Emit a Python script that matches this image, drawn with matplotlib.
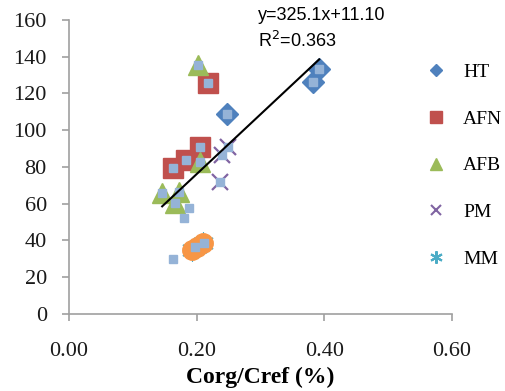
import matplotlib.pyplot as plt
from matplotlib.lines import Line2D

# data (Corg/Cref as fraction, y value)
ht_x = [0.392, 0.382, 0.247]
ht_y = [133.3, 126.3, 108.8]

afn_x = [0.218, 0.205, 0.183, 0.163]
afn_y = [125.7, 91.0, 83.8, 79.5]

afb_x = [0.202, 0.205, 0.146, 0.172, 0.166]
afb_y = [135.5, 82.7, 65.8, 66.4, 60.4]

pm_x = [0.236, 0.239, 0.249]
pm_y = [71.8, 86.5, 91.0]

mm_x = [0.193, 0.200, 0.210]
mm_y = [34.8, 36.5, 38.6]

# orange points and small squares (not in legend)
or_x = [0.193, 0.200, 0.210]
or_y = [34.8, 36.5, 38.6]

sq_x = ht_x + afn_x + afb_x + pm_x + [0.188, 0.180, 0.163, 0.197, 0.211]
sq_y = ht_y + afn_y + afb_y + pm_y + [57.7, 52.4, 29.9, 36.5, 38.6]

slope = 325.1
icpt = 11.10
fit_x = [0.146, 0.392]

fig = plt.figure(figsize=(5.05, 3.91), dpi=100)
ax = fig.add_axes([0.1366, 0.197, 0.895 - 0.1366, 0.949 - 0.197])

ax.plot(ht_x, ht_y, 'D', color='#4F81BD', markersize=11, zorder=3)
ax.plot(afn_x, afn_y, 's', color='#C0504D', markersize=14.5, zorder=3)
ax.plot(afb_x, afb_y, '^', color='#9BBB59', markersize=15, zorder=3)
ax.plot(pm_x, pm_y, 'x', color='#8064A2', markersize=12, markeredgewidth=1.6, zorder=3)
ax.plot(mm_x, mm_y, marker=(6, 2, 0), linestyle='none', color='#4BACC6',
        markersize=16, markeredgewidth=0.8, zorder=3)
ax.plot(or_x, or_y, 'o', color='#F79646', markersize=14, zorder=4)
ax.plot(sq_x, sq_y, 's', color='#95B3D7', markersize=6, zorder=5)

fit_y = [slope * v + icpt for v in fit_x]
ax.plot(fit_x, fit_y, color='black', linewidth=1.5, zorder=6)

ax.set_xlim(0, 0.6)
ax.set_ylim(0, 160)
ax.set_xticks([0.0, 0.2, 0.4, 0.6])
ax.set_xticklabels(['0.00', '0.20', '0.40', '0.60'])
ax.set_yticks(range(0, 161, 20))

for s in ['top', 'right']:
    ax.spines[s].set_visible(False)
for s in ['left', 'bottom']:
    ax.spines[s].set_color('#a0a0a0')
    ax.spines[s].set_linewidth(1.2)

ax.tick_params(axis='both', colors='#a0a0a0', length=5, width=1.2, labelcolor='#1a1a1a')
ax.tick_params(axis='y', pad=11)
ax.tick_params(axis='x', pad=15)
for lab in ax.get_xticklabels() + ax.get_yticklabels():
    lab.set_fontfamily('Liberation Serif')
    lab.set_fontsize(16)

fig.text(0.5 * (69 + 452) / 505, 1 - 377 / 391, 'Corg/Cref (%)', fontfamily='Liberation Serif',
         fontweight='bold', fontsize=17, ha='center', va='center')

fig.text(258 / 505, 1 - 16 / 391, 'y=325.1x+11.10', fontfamily='Liberation Sans',
         fontsize=13, va='center', ha='left')
fig.text(258 / 505, 1 - 41 / 391, 'R$^2$=0.363', fontfamily='Liberation Sans',
         fontsize=13, va='center', ha='left')

handles = [
    Line2D([], [], linestyle='none', marker='D', color='#4F81BD', markersize=6),
    Line2D([], [], linestyle='none', marker='s', color='#C0504D', markersize=8),
    Line2D([], [], linestyle='none', marker='^', color='#9BBB59', markersize=8),
    Line2D([], [], linestyle='none', marker='x', color='#8064A2', markersize=7, markeredgewidth=1.5),
    Line2D([], [], linestyle='none', marker=(6, 2, 0), color='#4BACC6', markersize=9,
           markeredgewidth=1.5),
]
labels = ['HT', 'AFN', 'AFB', 'PM', 'MM']
fig.legend(handles, labels, loc='center left', bbox_to_anchor=(0.825, 1 - 165.5 / 391),
           frameon=False, handlelength=1.0, handletextpad=0.9, borderpad=0,
           labelspacing=1.5, prop={'family': 'Liberation Serif', 'size': 14})

fig.savefig('out.png', dpi=100)
